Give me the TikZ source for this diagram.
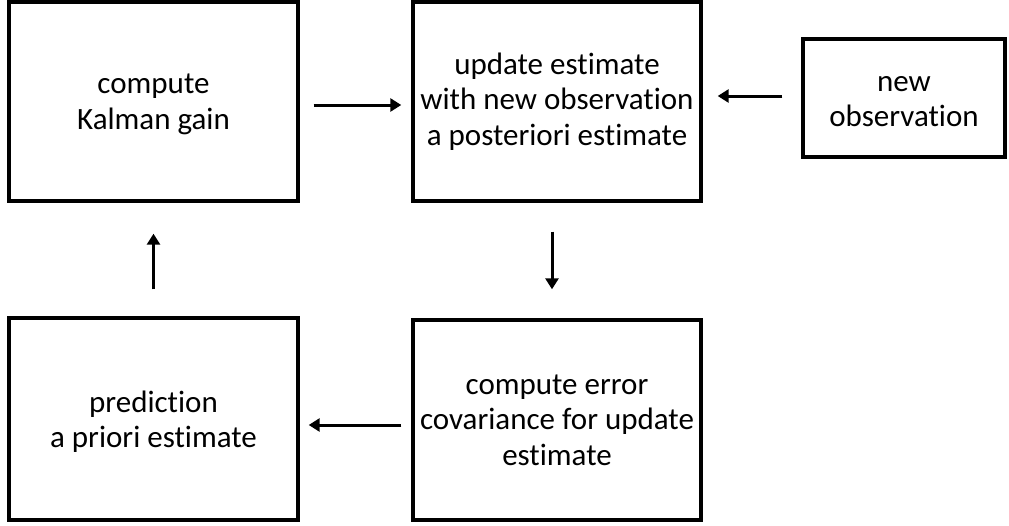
\documentclass[tikz,border=0pt]{standalone}
\usepackage{fontspec}
\setmainfont[Ligatures=NoCommon]{Carlito}
\usetikzlibrary{arrows.meta}
\tikzset{
  stepbox/.style={draw=black, line width=3.4pt, inner sep=0pt, align=center,
    font=\fontsize{31}{35.5}\selectfont},
  flow/.style={line width=3pt, -{Triangle[length=11pt,width=13pt]}},
}
\begin{document}
\begin{tikzpicture}[x=1pt,y=-1pt]
\useasboundingbox (0,0) rectangle (1009,525);
\node[stepbox, minimum width=289pt, minimum height=199pt, text depth=0pt] (gain) at (153.5,101.5) {compute\\Kalman gain};
\node[stepbox, minimum width=288pt, minimum height=199pt] (upd) at (557,101.5) {update estimate\\with new observation\\a posteriori estimate};
\node[stepbox, minimum width=202pt, minimum height=118pt, text height=58pt] (obs) at (904,98) {new\\observation};
\node[stepbox, minimum width=289pt, minimum height=202pt, text depth=0pt] (pred) at (153.5,419) {prediction\\a priori estimate};
\node[stepbox, minimum width=288pt, minimum height=200pt] (cov) at (557,420) {compute error\\covariance for update\\estimate};
% cycle of the filter
\draw[flow, shorten <=14pt, shorten >=10pt] ([yshift=-3.5pt]gain.east) -- ([yshift=-3.5pt]upd.west);
\draw[flow, shorten <=19pt, shorten >=15pt] ([yshift=2pt]obs.west) -- ([yshift=2pt]obs.west -| upd.east);
\draw[flow, shorten <=29pt, shorten >=29pt] ([xshift=-5pt]upd.south) -- ([xshift=-5pt]cov.north);
\draw[flow, shorten <=10pt, shorten >=9pt] ([yshift=-5pt]cov.west) -- ([yshift=-5pt]cov.west -| pred.east);
\draw[flow, shorten <=27pt, shorten >=31pt] (pred.north) -- (gain.south);
\end{tikzpicture}
\end{document}
